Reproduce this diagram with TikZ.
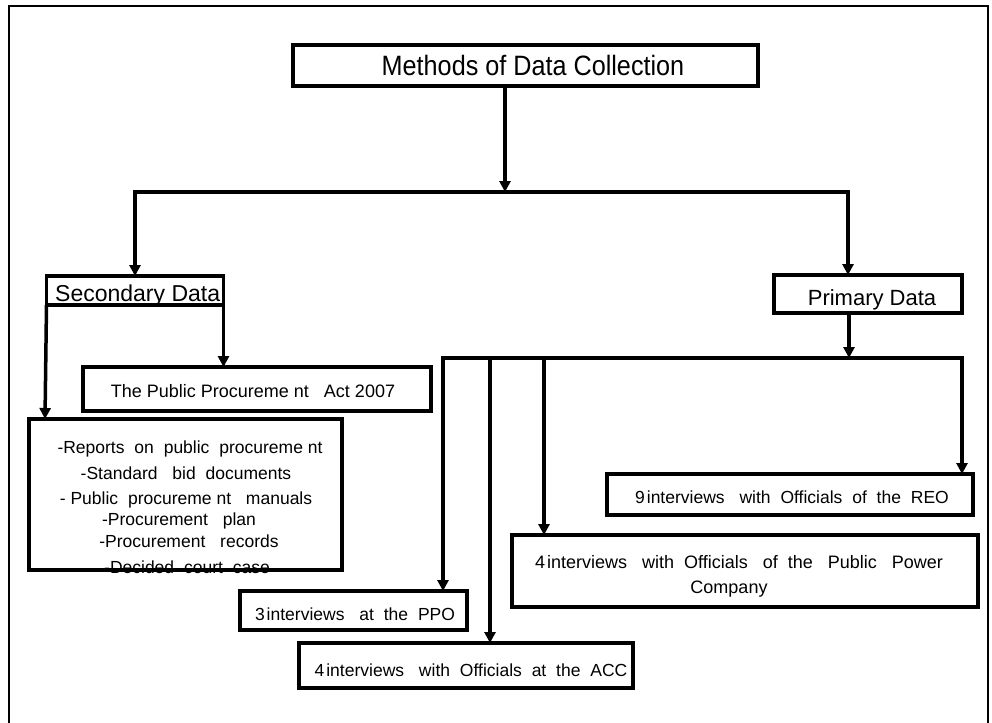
\documentclass[tikz,border=0pt]{standalone}
\usepackage{fontspec}
\setmainfont{Liberation Sans}
\newfontfamily\titlefont[FakeStretch=0.9]{Liberation Sans}
\usetikzlibrary{arrows.meta}
\newcommand{\gap}{\hspace{5pt}}
\begin{document}
\begin{tikzpicture}[x=1pt,y=-1pt,
  box/.style={draw, line width=3.5pt, inner sep=0pt, outer sep=0pt},
  conn/.style={line width=3.5pt, line cap=rect},
  arr/.style={line width=3.5pt, -{Triangle[length=11pt,width=11pt]}},
  lbl/.style={inner sep=0pt, anchor=base, font=\fontsize{17.5}{20}\selectfont}]
\useasboundingbox (0,0) rectangle (992,722);
% outer frame
\draw[line width=1.5pt] (9,730) -- (9,6) -- (988,6) -- (988,730);
% boxes
\node[box, minimum width=465pt, minimum height=41pt] (title) at (525.5,65.5) {};
\node[box, minimum width=177pt, minimum height=29pt] (sec) at (135,290.5) {};
\node[box, minimum width=188pt, minimum height=38pt] (prim) at (868,294) {};
\node[box, minimum width=348pt, minimum height=44pt] (ppa) at (257,389) {};
\node[box, minimum width=313pt, minimum height=151pt] (rep) at (185.5,494.5) {};
\node[box, minimum width=366pt, minimum height=41pt] (reo) at (790,494.5) {};
\node[box, minimum width=466pt, minimum height=72pt] (ppc) at (745,571) {};
\node[box, minimum width=227pt, minimum height=39pt] (ppo) at (353.5,610.5) {};
\node[box, minimum width=334pt, minimum height=45pt] (acc) at (466,665.5) {};
% texts
\node[lbl, font=\titlefont\fontsize{28}{30}\selectfont] (ttitle) at (533,76) {Methods of Data Collection};
\node[lbl, anchor=base west, font=\fontsize{23}{26}\selectfont] (tsec) at (55,301) {Secondary Data};
\node[lbl, font=\fontsize{22}{26}\selectfont] (tprim) at (872,305) {Primary Data};
\node[lbl, font=\fontsize{18}{20}\selectfont] (tppa) at (253,397) {The Public Procureme nt \gap\gap Act 2007};
\node[lbl] (rep1) at (190,453) {-Reports \gap on \gap public \gap procureme nt};
\node[lbl] (rep2) at (186,479) {-Standard \gap\gap bid \gap documents};
\node[lbl] (rep3) at (186,504) {- Public \gap procureme nt \gap\gap manuals};
\node[lbl] (rep4) at (179,525) {-Procurement \gap\gap plan};
\node[lbl] (rep5) at (189,547) {-Procurement \gap\gap records};
\node[lbl] (rep6) at (187,573) {-Decided \gap court \gap case};
\node[lbl] (treo) at (792,503) {9\hspace{2pt}interviews \gap\gap with \gap Officials \gap of \gap the \gap REO};
\node[lbl, font=\fontsize{18}{20}\selectfont] (tppc1) at (739,568) {4\hspace{2pt}interviews \gap\gap with \gap Officials \gap\gap of \gap the \gap\gap Public \gap\gap Power};
\node[lbl, font=\fontsize{18}{20}\selectfont] (tppc2) at (729,593) {Company};
\node[lbl] (tppo) at (355,620) {3\hspace{2pt}interviews \gap\gap at \gap the \gap PPO};
\node[lbl] (tacc) at (471,676) {4\hspace{2pt}interviews \gap\gap with \gap Officials \gap at \gap the \gap ACC};
% first level bus
\coordinate (b1l) at (135,192);
\coordinate (b1c) at (505,192);
\coordinate (b1r) at (848,192);
\draw[arr] (title.south -| b1c) -- (b1c);
\draw[conn] (b1l) -- (b1r);
\draw[arr] (b1l) -- (sec.north);
\draw[arr] (b1r) -- (b1r |- prim.north);
% secondary branches
\coordinate (sl) at (45,0);
\draw[arr] (sec.south west) -- (sl |- rep.north);
\draw[arr] (sec.south east) -- (sec.south east |- ppa.north);
% primary bus
\coordinate (b2l) at (443,358);
\coordinate (b2a) at (490,358);
\coordinate (b2b) at (544,358);
\coordinate (b2p) at (849,358);
\coordinate (b2r) at (962,358);
\draw[arr] (b2p |- prim.south) -- (b2p);
\draw[conn] (b2l) -- (b2r);
\draw[arr] (b2l) -- (b2l |- ppo.north);
\draw[arr] (b2a) -- (b2a |- acc.north);
\draw[arr] (b2b) -- (b2b |- ppc.north);
\draw[arr] (b2r) -- (b2r |- reo.north);
\end{tikzpicture}
\end{document}
